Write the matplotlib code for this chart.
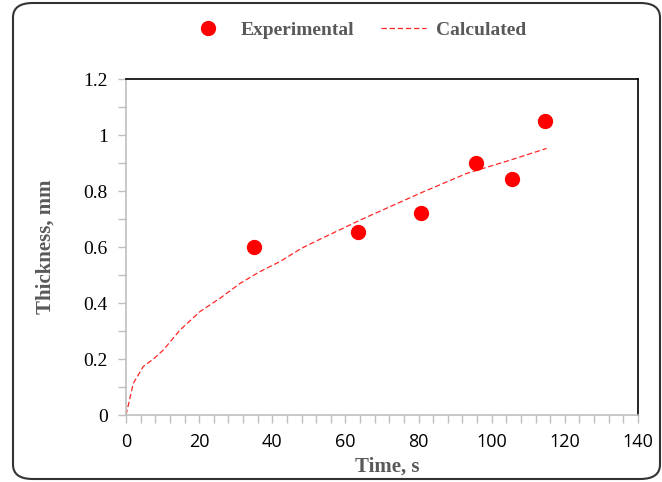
import matplotlib.pyplot as plt
from matplotlib.patches import FancyBboxPatch
from matplotlib.ticker import MultipleLocator

# experimental points
exp_time = [35, 63.5, 80.8, 95.6, 105.6, 114.6]
exp_thick = [0.60, 0.652, 0.721, 0.901, 0.842, 1.05]

# calculated curve
calc_time = [0, 2.0, 4.7, 7.5, 10.2, 14.8, 20.2, 25.7, 31.2, 36.6, 42.1,
             47.8, 52.6, 64.0, 80.4, 93.2, 105.0, 115.0]
calc_thick = [0, 0.113, 0.173, 0.20, 0.232, 0.304, 0.369, 0.417, 0.470, 0.512, 0.548,
              0.594, 0.625, 0.696, 0.792, 0.863, 0.910, 0.952]

W, H = 662, 482
fig = plt.figure(figsize=(W / 100, H / 100), dpi=100)

# rounded frame round the whole chart
frame = FancyBboxPatch((13 / W, 3 / H), 647 / W, 476 / H,
                       boxstyle='round,pad=0,rounding_size=0.03',
                       transform=fig.transFigure, fill=False,
                       edgecolor='#333333', linewidth=1.5)
fig.patches.append(frame)

ax = fig.add_axes([126 / W, 1 - 415 / H, 512 / W, 336 / H])

ax.plot(calc_time, calc_thick, color='#ff0000', linestyle=(0, (4.3, 2.2)),
        linewidth=0.9, alpha=0.85, label='Calculated', zorder=2)
ax.plot(exp_time, exp_thick, linestyle='none', marker='o', markersize=10,
        color='#ff0000', label='Experimental', zorder=3)

ax.set_xlim(0, 140)
ax.set_ylim(0, 1.2)
ax.xaxis.set_major_locator(MultipleLocator(20))
ax.xaxis.set_minor_locator(MultipleLocator(4))
ax.yaxis.set_major_locator(MultipleLocator(0.2))
ax.yaxis.set_minor_locator(MultipleLocator(0.1))
ax.set_yticks([0, 0.2, 0.4, 0.6, 0.8, 1.0, 1.2],
              ['0', '0.2', '0.4', '0.6', '0.8', '1', '1.2'])

for side in ['left', 'bottom']:
    ax.spines[side].set_color('#bfbfbf')
    ax.spines[side].set_linewidth(1.2)
for side in ['top', 'right']:
    ax.spines[side].set_color('black')
    ax.spines[side].set_linewidth(1.2)

ax.tick_params(which='both', direction='out', length=6, width=1, color='#bfbfbf')
ax.tick_params(axis='x', pad=7, labelsize=13)
ax.tick_params(axis='y', pad=7, labelsize=14)
for lab in ax.get_xticklabels():
    lab.set_family('Open Sans')
for lab in ax.get_yticklabels():
    lab.set_family('Liberation Serif')

ax.set_xlabel('Time, s', family='Liberation Serif', fontweight='bold',
              fontsize=15, color='#595959')
ax.xaxis.set_label_coords(0.51, -0.125)
ax.set_ylabel('Thickness, mm', family='Liberation Serif', fontweight='bold',
              fontsize=15, color='#595959')
ax.yaxis.set_label_coords(-0.137, 0.5)

handles, labels = ax.get_legend_handles_labels()
leg = fig.legend(handles[::-1], labels[::-1], loc='center', ncol=2,
                 bbox_to_anchor=(356 / W, 1 - 30 / H), frameon=False,
                 prop={'family': 'Liberation Serif', 'weight': 'bold', 'size': 14},
                 handlelength=2.3, columnspacing=1.4, handletextpad=0.5)
for t in leg.get_texts():
    t.set_color('#595959')

fig.savefig('out.png', dpi=100)
